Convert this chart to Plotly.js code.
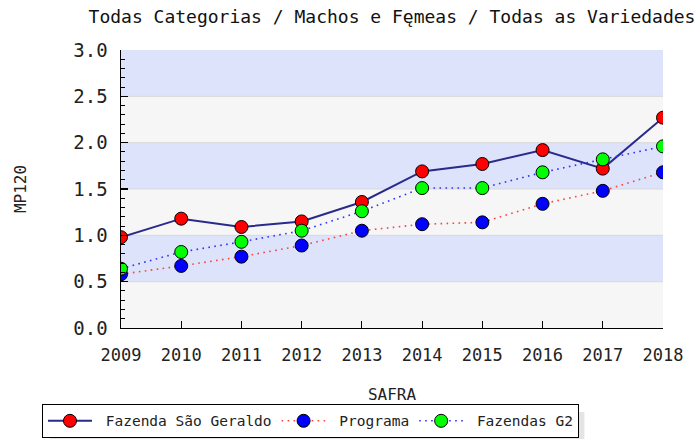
<!DOCTYPE html>
<html><head><meta charset="utf-8">
<script src="https://cdn.plot.ly/plotly-3.0.1.min.js"></script>
<style>html,body{margin:0;padding:0;background:#fff}#chart{width:697px;height:439px}</style>
</head><body><div id="chart"></div>
<script>
const years = [2009, 2010, 2011, 2012, 2013, 2014, 2015, 2016, 2017, 2018];
const fazendaSaoGeraldo = [0.98, 1.18, 1.09, 1.15, 1.36, 1.69, 1.77, 1.92, 1.72, 2.27];
const programa = [0.58, 0.67, 0.77, 0.89, 1.05, 1.12, 1.14, 1.34, 1.48, 1.68];
const fazendasG2 = [0.64, 0.82, 0.93, 1.05, 1.26, 1.51, 1.51, 1.68, 1.82, 1.96];
const yTicks = [0.0, 0.5, 1.0, 1.5, 2.0, 2.5, 3.0];
const seriesNames = ['Fazenda São Geraldo', 'Programa', 'Fazendas G2'];
const titleText = 'Todas Categorias / Machos e Fęmeas / Todas as Variedades';

const mono = 'DejaVu Sans Mono';
const pad = '\u00a0';
const mk = (c) => ({symbol: 'circle', size: 13, color: c, line: {color: '#000', width: 1}});

const traces = [
  {x: years, y: fazendaSaoGeraldo, name: pad + seriesNames[0], mode: 'lines+markers',
   line: {color: '#2a2a8c', width: 2, dash: 'solid'}, marker: mk('#ff0000')},
  {x: years, y: programa, name: pad + seriesNames[1], mode: 'lines+markers',
   line: {color: '#ff4040', width: 1.6, dash: '1.6px,4.4px'}, marker: mk('#0000ff')},
  {x: years, y: fazendasG2, name: pad + seriesNames[2], mode: 'lines+markers', xaxis: 'x2', yaxis: 'y2',
   line: {color: '#3030ff', width: 1.6, dash: '1.6px,4.4px'}, marker: mk('#00ff00')}
];

const shapes = [];
for (let i = 0; i < yTicks.length - 1; i++) {
  shapes.push({type: 'rect', xref: 'paper', yref: 'y', x0: 0, x1: 1, y0: yTicks[i], y1: yTicks[i + 1],
    fillcolor: i % 2 === 0 ? '#f6f6f6' : '#dce3fa', line: {width: 0}, layer: 'below'});
}
for (let i = 1; i < yTicks.length - 1; i++) {
  shapes.push({type: 'line', xref: 'paper', yref: 'y', x0: 0, x1: 1, y0: yTicks[i], y1: yTicks[i],
    line: {color: '#d8d8d8', width: 1}, layer: 'below'});
}
// legend shadow
shapes.push({type: 'rect', xref: 'paper', yref: 'paper', x0: -0.131, x1: 0.855, y0: -0.421, y1: -0.302,
  fillcolor: '#e4e4e4', line: {width: 0}, layer: 'above'});

const layout = {
  width: 697, height: 439,
  margin: {l: 121, r: 34, t: 50, b: 111, autoexpand: false},
  paper_bgcolor: '#fff', plot_bgcolor: '#fff',
  title: {text: titleText, x: 0.5, xref: 'paper', y: 0.977, yanchor: 'top',
    font: {family: mono, size: 18, color: '#111'}},
  xaxis: {range: [2009, 2018], tickmode: 'linear', tick0: years[0], dtick: 1, tickformat: 'd',
    showline: true, linecolor: '#000', linewidth: 1, ticks: '',
    showgrid: false, zeroline: false, tickfont: {family: mono, size: 17, color: '#222'},
    ticklabelstandoff: 12,
    title: {text: 'SAFRA', font: {family: mono, size: 16, color: '#222'}, standoff: 24}},
  yaxis: {range: [0, 3], tickmode: 'linear', tick0: yTicks[0], dtick: yTicks[1] - yTicks[0],
    tickformat: '.1f',
    showline: true, linecolor: '#000', linewidth: 1.5, ticks: '',
    showgrid: false, zeroline: false,
    tickfont: {family: mono, size: 19, color: '#222'}, ticklabelstandoff: 8,
    title: {text: 'MP120', font: {family: mono, size: 16, color: '#222'}, standoff: 43}},
  xaxis2: {overlaying: 'x', anchor: 'y2', side: 'bottom', range: [2009, 2018],
    tickmode: 'linear', tick0: years[0], dtick: 1, showticklabels: false,
    ticks: 'inside', ticklen: 7, tickwidth: 1.2, tickcolor: '#000',
    showline: false, showgrid: false, zeroline: false},
  yaxis2: {overlaying: 'y', anchor: 'x2', side: 'left', range: [0, 3],
    tickmode: 'linear', tick0: yTicks[0], dtick: yTicks[1] - yTicks[0], showticklabels: false,
    ticks: 'inside', ticklen: 7, tickwidth: 1.2, tickcolor: '#000',
    minor: {dtick: 0.1, ticks: 'inside', ticklen: 4, tickwidth: 1, tickcolor: '#000', showgrid: false},
    showline: false, showgrid: false, zeroline: false},
  showlegend: true,
  legend: {orientation: 'h', x: -0.1458, xanchor: 'left', y: -0.273, yanchor: 'top',
    bgcolor: '#fff', bordercolor: '#000', borderwidth: 1,
    font: {family: mono, size: 14.5, color: '#222'}, itemwidth: 44},
  shapes: shapes
};

Plotly.newPlot('chart', traces, layout, {displayModeBar: false, staticPlot: true});
</script></body></html>
